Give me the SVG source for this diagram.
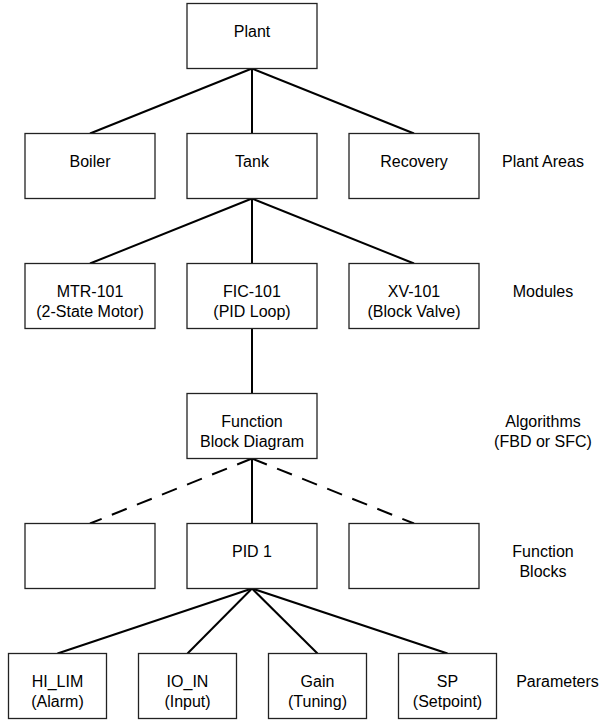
<svg xmlns="http://www.w3.org/2000/svg" width="613" height="726" viewBox="0 0 613 726">
<style>
.box{fill:#fff;stroke:#222;stroke-width:1.3}
.t{font-family:"Liberation Sans",Arial,sans-serif;font-size:16px;fill:#000;text-anchor:middle}
.c{stroke:#000;stroke-width:2;fill:none}
.d{stroke:#000;stroke-width:2;fill:none;stroke-dasharray:16 11}
</style>
<rect width="613" height="726" fill="#fff"/>
<g id="connectors">
<line class="c" x1="252" y1="68.5" x2="90" y2="133.5"/>
<line class="c" x1="252" y1="68.5" x2="252" y2="133.5"/>
<line class="c" x1="252" y1="68.5" x2="414" y2="133.5"/>
<line class="c" x1="252" y1="198.5" x2="90" y2="263.5"/>
<line class="c" x1="252" y1="198.5" x2="252" y2="263.5"/>
<line class="c" x1="252" y1="198.5" x2="414" y2="263.5"/>
<line class="c" x1="252" y1="328.5" x2="252" y2="393.5"/>
<line class="d" x1="252" y1="458.5" x2="90" y2="523.5"/>
<line class="c" x1="252" y1="458.5" x2="252" y2="523.5"/>
<line class="d" x1="252" y1="458.5" x2="414" y2="523.5"/>
<line class="c" x1="252" y1="588.5" x2="57.5" y2="653.5"/>
<line class="c" x1="252" y1="588.5" x2="187.5" y2="653.5"/>
<line class="c" x1="252" y1="588.5" x2="317.5" y2="653.5"/>
<line class="c" x1="252" y1="588.5" x2="447.5" y2="653.5"/>
</g>
<g id="plant"><rect class="box" x="187" y="3.5" width="130" height="65"/><text class="t" x="252" y="37">Plant</text></g>
<g id="boiler"><rect class="box" x="25" y="133.5" width="130" height="65"/><text class="t" x="90" y="167">Boiler</text></g>
<g id="tank"><rect class="box" x="187" y="133.5" width="130" height="65"/><text class="t" x="252" y="167">Tank</text></g>
<g id="recovery"><rect class="box" x="349" y="133.5" width="130" height="65"/><text class="t" x="414" y="167">Recovery</text></g>
<g id="mtr101"><rect class="box" x="25" y="263.5" width="130" height="65"/><text class="t" x="90" y="297">MTR-101</text><text class="t" x="90" y="317">(2-State Motor)</text></g>
<g id="fic101"><rect class="box" x="187" y="263.5" width="130" height="65"/><text class="t" x="252" y="297">FIC-101</text><text class="t" x="252" y="317">(PID Loop)</text></g>
<g id="xv101"><rect class="box" x="349" y="263.5" width="130" height="65"/><text class="t" x="414" y="297">XV-101</text><text class="t" x="414" y="317">(Block Valve)</text></g>
<g id="fbd"><rect class="box" x="187" y="393.5" width="130" height="65"/><text class="t" x="252" y="427">Function</text><text class="t" x="252" y="447">Block Diagram</text></g>
<g id="fb-left"><rect class="box" x="25" y="523.5" width="130" height="65"/></g>
<g id="pid1"><rect class="box" x="187" y="523.5" width="130" height="65"/><text class="t" x="252" y="557">PID 1</text></g>
<g id="fb-right"><rect class="box" x="349" y="523.5" width="130" height="65"/></g>
<g id="hilim"><rect class="box" x="8.5" y="653.5" width="98" height="65"/><text class="t" x="57.5" y="687">HI_LIM</text><text class="t" x="57.5" y="707">(Alarm)</text></g>
<g id="ioin"><rect class="box" x="138.5" y="653.5" width="98" height="65"/><text class="t" x="187.5" y="687">IO_IN</text><text class="t" x="187.5" y="707">(Input)</text></g>
<g id="gain"><rect class="box" x="268.5" y="653.5" width="98" height="65"/><text class="t" x="317.5" y="687">Gain</text><text class="t" x="317.5" y="707">(Tuning)</text></g>
<g id="sp"><rect class="box" x="398.5" y="653.5" width="98" height="65"/><text class="t" x="447.5" y="687">SP</text><text class="t" x="447.5" y="707">(Setpoint)</text></g>
<g id="side-labels">
<text class="t" x="543" y="167">Plant Areas</text>
<text class="t" x="543" y="297">Modules</text>
<text class="t" x="543" y="427">Algorithms</text>
<text class="t" x="543" y="447">(FBD or SFC)</text>
<text class="t" x="543" y="557">Function</text>
<text class="t" x="543" y="577">Blocks</text>
<text class="t" x="557.5" y="687">Parameters</text>
</g>
</svg>
